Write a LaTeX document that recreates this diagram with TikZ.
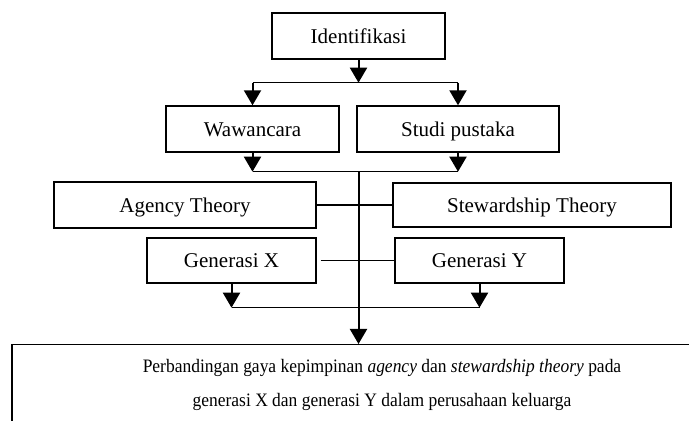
\documentclass[tikz,border=0pt]{standalone}
\usepackage{fontspec}
\setmainfont{Liberation Serif}
\newfontfamily\narrowserif[FakeStretch=0.92]{Liberation Serif}
\usetikzlibrary{positioning, arrows.meta}

\begin{document}
\begin{tikzpicture}[x=0.5pt,y=-0.5pt,on grid,
    box/.style={draw,line width=0.7pt,minimum height=23pt,inner sep=0pt,text height=7.5pt,text depth=0pt,font=\fontsize{10.5}{17}\selectfont},
    result/.style={draw,line width=0.7pt,minimum width=370pt,align=center,inner xsep=0pt,inner ysep=7.5pt,anchor=north,font=\narrowserif\fontsize{9.5}{17}\selectfont},
    arr/.style={-{Triangle[width=8.5pt,length=7.5pt]},line width=1pt},
    link/.style={line width=0.7pt}]

    \useasboundingbox (0,0) rectangle (689,421);

      \node[box,minimum width=86.5pt]  (ident)  at (358.5,36)                          {Identifikasi};
      \node[box,minimum width=86.5pt]  (waw)    [below left=46.5pt and 53pt of ident]  {Wawancara};
      \node[box,minimum width=101pt]   (studi)  [right=102.75pt of waw]                {Studi pustaka};
      \node[box,minimum width=131pt]   (agency) [below left=38pt and 33.75pt of waw]   {Agency Theory};
      \node[box,minimum width=139pt,minimum height=22pt] (steward) [right=173.5pt of agency] {Stewardship Theory};
      \node[box,minimum width=84.5pt,minimum height=22.5pt] (genX) [below right=27.75pt and 23.25pt of agency] {Generasi X};
      \node[box,minimum width=84.5pt,minimum height=22.5pt] (genY) [right=124pt of genX] {Generasi Y};
      \node[result] (result) at (382,344) {Perbandingan gaya kepimpinan \textit{agency} dan \textit{stewardship theory} pada\\ generasi X dan generasi Y dalam perusahaan keluarga};

      \coordinate[below=11.5pt of ident.south] (split1);
      \coordinate[below=9.5pt of waw.south]    (split2);
      \coordinate[below=12pt of genX.south]    (split3);

      \draw[arr]  (ident) -- (split1);
      \draw[link] (waw.north |- split1) -- (studi.north |- split1);
      \draw[arr]  (waw.north |- split1) -- (waw);
      \draw[arr]  (studi.north |- split1) -- (studi);

      \draw[arr]  (waw) -- (split2);
      \draw[arr]  (studi) -- (studi.south |- split2);
      \draw[link] (split2) -- (studi.south |- split2);
      \draw[arr]  (ident.south |- split2) -- (ident.south |- result.north);

      \draw[link] (agency.east) -- (agency.east -| steward.west);
      \draw[link,shorten <=2pt] (genX.east) -- (genX.east -| genY.west);

      \draw[arr]  (genX) -- (split3);
      \draw[arr]  (genY) -- (genY.south |- split3);
      \draw[link] (split3) -- (genY.south |- split3);
\end{tikzpicture}
\end{document}
